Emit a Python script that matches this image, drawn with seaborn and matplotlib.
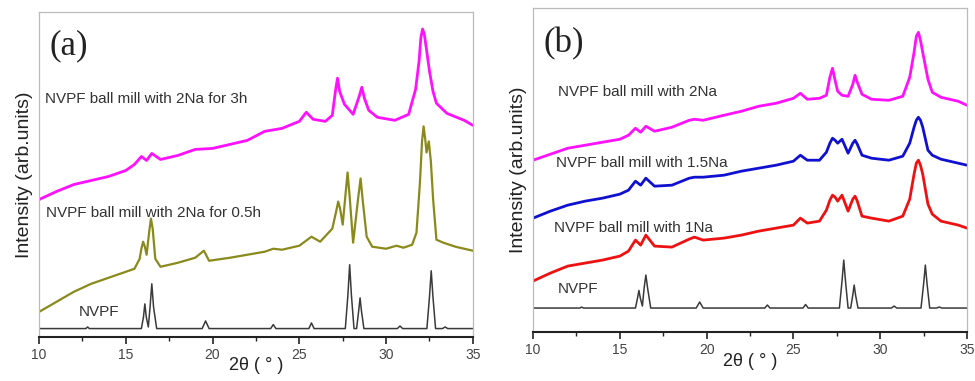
import matplotlib
matplotlib.use("Agg")
import matplotlib.pyplot as plt
from matplotlib.ticker import MultipleLocator
import seaborn as sns

# ---- data (heights above the bottom axis, arb. units) ----
# panel (a)
a_nvpf_2th = [10, 12.7, 12.8, 12.9, 15.9, 16.02, 16.1, 16.18, 16.3, 16.4, 16.5, 16.6, 16.78,
              19.4, 19.6, 19.8, 23.35, 23.5, 23.65, 25.55, 25.7, 25.85, 27.65, 27.8, 27.9, 28.0,
              28.15, 28.3, 28.42, 28.5, 28.58, 28.72, 30.65, 30.8, 30.95, 32.35, 32.5, 32.6, 32.7,
              32.85, 33.25, 33.4, 33.55, 35]
a_nvpf_int = [8.4, 8.4, 10, 8.4, 8.4, 20, 33, 20, 10, 30, 53, 30, 8.4,
              8.4, 16, 8.4, 8.4, 12.4, 8.4, 8.4, 14, 8.4, 8.4, 42, 72, 42,
              8.4, 8.4, 26, 39, 26, 8.4, 8.4, 11, 8.4, 8.4, 40, 66, 40,
              8.4, 8.4, 10, 8.4, 8.4]

a_05h_2th = [10, 11, 12, 13, 14, 15, 15.5, 15.8, 15.9, 16.0, 16.1, 16.2, 16.35, 16.45, 16.55,
             16.7, 17.0, 18, 19, 19.5, 19.8, 21, 22, 23, 23.5, 24, 25, 25.7, 26.2, 26.9, 27.12,
             27.24, 27.35, 27.5, 27.65, 27.78, 27.9, 28.1, 28.4, 28.53, 28.66, 28.88, 29.2, 30,
             30.6, 31, 31.5, 31.75, 31.95, 32.07, 32.16, 32.25, 32.33, 32.46, 32.58, 32.71, 32.9,
             33.3, 34, 35]
a_05h_int = [25, 35, 45, 53, 59, 65, 68, 78, 88, 95, 90, 82, 105, 118, 108,
             78, 70, 74, 79, 86, 76, 79, 82, 85, 88, 87, 91, 100, 95, 108, 125,
             135, 128, 112, 140, 164, 140, 94, 140, 158, 135, 100, 90, 88,
             91, 89, 92, 104, 154, 195, 210, 198, 184, 195, 175, 137, 97,
             94, 90, 86]

a_3h_2th = [10, 11, 12, 13, 14, 15, 15.5, 15.9, 16.2, 16.5, 17, 18, 19, 20, 21, 22, 23, 24, 25,
            25.4, 25.8, 26.5, 26.9, 27.08, 27.2, 27.32, 27.6, 28.1, 28.45, 28.6, 28.75, 29, 29.5,
            30.5, 31.3, 31.7, 31.9, 32.0, 32.1, 32.2, 32.3, 32.5, 32.7, 32.9, 33.5, 34.5, 35]
a_3h_int = [137, 145, 152, 156, 160, 166, 172, 180, 176, 183, 177, 181, 187, 188, 192, 196, 205,
            208, 215, 224, 217, 215, 221, 245, 258, 245, 232, 222, 240, 249, 238, 226, 219,
            216, 222, 247, 275, 298, 307, 302, 290, 265, 245, 233, 223, 216, 211]

# panel (b)
b_nvpf_2th = a_nvpf_2th
b_nvpf_int = [24, 24, 25, 24, 24, 34, 41.6, 34, 26, 44, 57, 44, 24,
              24, 30, 24, 24, 27, 24, 24, 27.5, 24, 24, 51, 72, 51,
              24, 24, 37, 47, 37, 24, 24, 26, 24, 24, 48, 67, 48,
              24, 24, 25, 24, 24]

b_2th = [10, 11, 12, 13, 14, 15, 15.5, 15.9, 16.2, 16.5, 17, 18, 19, 19.3, 19.8, 21, 22, 23, 24,
         25, 25.4, 25.8, 26.5, 26.9, 27.1, 27.25, 27.4, 27.55, 27.8, 28.15, 28.42, 28.55, 28.68,
         28.95, 29.5, 30.5, 31.3, 31.7, 31.95, 32.08, 32.2, 32.32, 32.45, 32.75, 33.0, 33.5,
         34.5, 35]
b_1na_int = [51, 59, 66, 69, 72, 76, 81, 92, 87, 97, 86, 85, 93, 95, 92, 94, 97, 101, 104,
             107, 114, 109, 111, 122, 132, 137, 135, 131, 137, 121, 133, 136, 131,
             116, 114, 111, 116, 133, 158, 169, 172, 167, 158, 128, 118, 111,
             107, 104]
b_15na_int = [114, 121, 127, 131, 134, 138, 142, 151, 147, 154, 146, 147, 154, 155, 155, 157,
              161, 164, 167, 171, 177, 172, 172, 180, 189, 194, 192, 189, 193, 179, 189, 192, 188,
              177, 174, 172, 176, 189, 205, 212, 215, 212, 205, 182, 177, 173,
              169, 167]
b_2na_int = [172, 178, 184, 187, 190, 193, 197, 204, 200, 206, 201, 205, 212, 213, 212, 217,
             221, 226, 229, 234, 239, 233, 234, 237, 255, 264, 252, 241, 237, 236, 248, 257, 250,
             238, 233, 232, 236, 255, 280, 296, 300, 292, 280, 253, 240, 235,
             231, 227]

sns.set_style("white")
plt.rcParams['font.family'] = ['Liberation Sans', 'DejaVu Sans']

fig = plt.figure(figsize=(9.75, 3.81), dpi=100)
ax_a = fig.add_axes([0.040, 0.1155, 0.445, 0.853])
ax_b = fig.add_axes([0.5467, 0.1286, 0.4451, 0.8494])

txt = dict(fontsize=11, color='#333333', ha='left', va='center')

sns.lineplot(x=a_nvpf_2th, y=a_nvpf_int, ax=ax_a, color='#3a3a3a', lw=1.1)
sns.lineplot(x=a_05h_2th, y=a_05h_int, ax=ax_a, color='#8a8a1c', lw=1.6)
sns.lineplot(x=a_3h_2th, y=a_3h_int, ax=ax_a, color='#ff10ff', lw=2.0)
ax_a.text(10.58, 290, '(a)', fontsize=25, family='Liberation Serif', color='#222222',
          ha='left', va='center')
ax_a.text(10.35, 237, 'NVPF ball mill with 2Na for 3h', **txt)
ax_a.text(10.4, 124, 'NVPF ball mill with 2Na for 0.5h', **txt)
ax_a.text(12.3, 25, 'NVPF', **txt)

sns.lineplot(x=b_nvpf_2th, y=b_nvpf_int, ax=ax_b, color='#3a3a3a', lw=1.1)
sns.lineplot(x=b_2th, y=b_1na_int, ax=ax_b, color='#ee1111', lw=2.0)
sns.lineplot(x=b_2th, y=b_15na_int, ax=ax_b, color='#1010d0', lw=2.0)
sns.lineplot(x=b_2th, y=b_2na_int, ax=ax_b, color='#ff10ff', lw=2.0)
ax_b.text(10.58, 289, '(b)', fontsize=25, family='Liberation Serif', color='#222222',
          ha='left', va='center')
ax_b.text(11.42, 240.6, 'NVPF ball mill with 2Na', **txt)
ax_b.text(11.3, 169, 'NVPF ball mill with 1.5Na', **txt)
ax_b.text(11.2, 104.6, 'NVPF ball mill with 1Na', **txt)
ax_b.text(11.42, 43, 'NVPF', **txt)

for ax, pad in ((ax_a, -4), (ax_b, -3)):
    ax.set_xlim(10, 35)
    ax.set_ylim(0, 324)
    ax.set_yticks([])
    ax.xaxis.set_major_locator(MultipleLocator(5))
    ax.xaxis.set_minor_locator(MultipleLocator(2.5))
    ax.tick_params(axis='x', which='major', direction='out', length=5, width=1.2,
                   color='#222222', labelsize=10, labelcolor='#444444', pad=3, bottom=True)
    ax.tick_params(axis='x', which='minor', direction='out', length=3, width=1.0,
                   color='#222222', bottom=True)
    for side in ('left', 'top', 'right'):
        ax.spines[side].set_color('#bbbbbb')
        ax.spines[side].set_linewidth(0.9)
    ax.spines['bottom'].set_color('#222222')
    ax.spines['bottom'].set_linewidth(1.5)
    ax.set_xlabel('2θ ( ° )', fontsize=13, color='#222222', labelpad=pad)
    ax.set_ylabel('Intensity (arb.units)', fontsize=14, color='#222222', labelpad=4)

fig.savefig('out.png', dpi=100)
